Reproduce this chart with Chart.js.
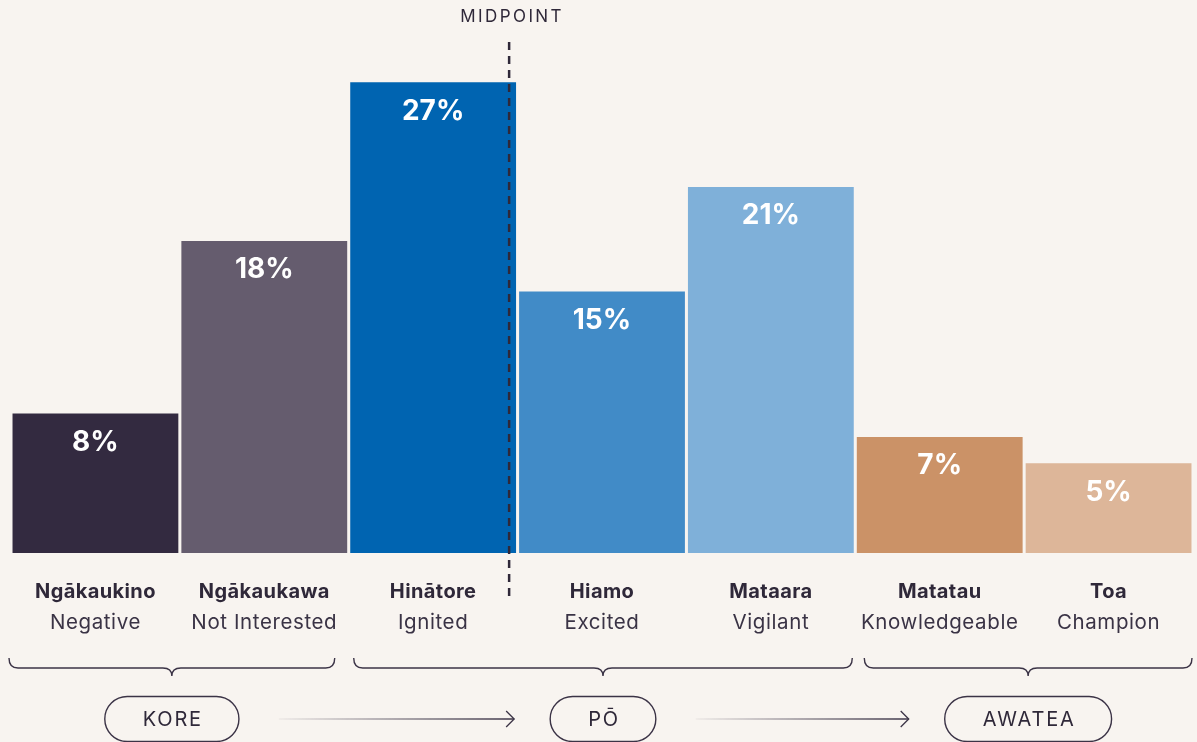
<!DOCTYPE html>
<html>
<head>
<meta charset="utf-8">
<script src="https://cdn.jsdelivr.net/npm/chart.js@4"></script>
<style>
  html, body { margin: 0; padding: 0; background: #f8f4f0; }
  #wrap { width: 1197px; height: 742px; position: relative; }
</style>
</head>
<body>
<div id="wrap"><canvas id="engagementChart"></canvas></div>
<script>
const categories = ['Ngākaukino', 'Ngākaukawa', 'Hinātore', 'Hiamo', 'Mataara', 'Matatau', 'Toa'];
const englishLabels = ['Negative', 'Not Interested', 'Ignited', 'Excited', 'Vigilant', 'Knowledgeable', 'Champion'];
// bar heights; the labels show them rounded
const values = [8, 17.9, 27, 15, 21, 6.65, 5.15];
const barColors = ['#332a40', '#655c6e', '#0064b1', '#418bc7', '#7fb0d9', '#cb9267', '#ddb699'];

// stage groups: name, first and last category index
const groupNames = ['KORE', 'PŌ', 'AWATEA'];
const groupStart = [0, 2, 5];
const groupEnd = [1, 4, 6];

const midpointLabel = 'MIDPOINT';
const midpointAt = 2.45; // position on the category axis

const ink = '#2f2839';
const fontFamily = 'Inter, "Noto Sans", sans-serif';
// brace insets (left, right) per group, in px
const braceInsets = [[-2, 14], [5, 3], [9, 1]];

const decorPlugin = {
    id: 'decor',
    afterDatasetsDraw(chart) {
        const ctx = chart.ctx;
        const x = chart.scales.x;
        const catW = x.getPixelForValue(1) - x.getPixelForValue(0);

        // value labels inside bars
        const meta = chart.getDatasetMeta(0);
        ctx.save();
        ctx.fillStyle = '#ffffff';
        ctx.font = 'bold 28px ' + fontFamily;
        ctx.textAlign = 'center';
        ctx.textBaseline = 'middle';
        meta.data.forEach((bar, i) => {
            ctx.fillText(Math.round(values[i]) + '%', bar.x, bar.y + 29);
        });
        ctx.restore();

        // category names
        ctx.save();
        ctx.textAlign = 'center';
        ctx.textBaseline = 'middle';
        categories.forEach((name, i) => {
            const cx = x.getPixelForValue(i);
            ctx.fillStyle = ink;
            ctx.font = 'bold 20px ' + fontFamily;
            ctx.letterSpacing = '0.4px';
            ctx.fillText(name, cx, 592);
            ctx.fillStyle = '#3a3345';
            ctx.font = '20.5px ' + fontFamily;
            ctx.letterSpacing = '0.6px';
            ctx.fillText(englishLabels[i], cx, 623);
        });
        ctx.restore();

        // midpoint line
        const mx = x.getPixelForValue(2) + (midpointAt - 2) * catW;
        ctx.save();
        ctx.strokeStyle = ink;
        ctx.lineWidth = 2.5;
        ctx.setLineDash([8, 6]);
        ctx.beginPath();
        ctx.moveTo(mx, 42);
        ctx.lineTo(mx, 596);
        ctx.stroke();
        ctx.setLineDash([]);
        ctx.fillStyle = ink;
        ctx.font = '17px ' + fontFamily;
        ctx.letterSpacing = '2.4px';
        ctx.textAlign = 'center';
        ctx.textBaseline = 'middle';
        ctx.fillText(midpointLabel, mx + 3, 17);
        ctx.restore();

        // braces, pills and arrows
        const pills = [];
        ctx.save();
        ctx.strokeStyle = '#3b3346';
        ctx.lineWidth = 1.4;
        groupNames.forEach((g, k) => {
            const left = x.getPixelForValue(groupStart[k]) - catW / 2 + braceInsets[k][0];
            const right = x.getPixelForValue(groupEnd[k]) + catW / 2 - braceInsets[k][1];
            const mid = (left + right) / 2;
            const yTop = 658, yLine = 668, yTip = 676, r = 9;
            ctx.beginPath();
            ctx.moveTo(left, yTop);
            ctx.quadraticCurveTo(left, yLine, left + r, yLine);
            ctx.lineTo(mid - r, yLine);
            ctx.quadraticCurveTo(mid, yLine, mid, yTip);
            ctx.quadraticCurveTo(mid, yLine, mid + r, yLine);
            ctx.lineTo(right - r, yLine);
            ctx.quadraticCurveTo(right, yLine, right, yTop);
            ctx.stroke();

            ctx.font = '20px ' + fontFamily;
            ctx.letterSpacing = '1.8px';
            const tw = ctx.measureText(g).width;
            const w = tw + 74, h = 45, cy = 719;
            pills.push({ left: mid - w / 2, right: mid + w / 2 });
            ctx.beginPath();
            ctx.roundRect(mid - w / 2, cy - h / 2, w, h, h / 2);
            ctx.stroke();
            ctx.fillStyle = ink;
            ctx.textAlign = 'center';
            ctx.textBaseline = 'middle';
            ctx.fillText(g, mid + 1, cy + 1);
        });
        for (let k = 0; k < pills.length - 1; k++) {
            const x0 = pills[k].right + 40;
            const x1 = pills[k + 1].left - 36;
            const ay = 719;
            const grad = ctx.createLinearGradient(x0, 0, x1, 0);
            grad.addColorStop(0, 'rgba(59,51,70,0.05)');
            grad.addColorStop(1, 'rgba(59,51,70,1)');
            ctx.strokeStyle = grad;
            ctx.lineWidth = 1.3;
            ctx.beginPath();
            ctx.moveTo(x0, ay);
            ctx.lineTo(x1, ay);
            ctx.stroke();
            ctx.strokeStyle = '#3b3346';
            ctx.beginPath();
            ctx.moveTo(x1 - 8, ay - 8);
            ctx.lineTo(x1, ay);
            ctx.lineTo(x1 - 8, ay + 8);
            ctx.stroke();
        }
        ctx.restore();
    }
};

const ctx = document.getElementById('engagementChart').getContext('2d');

const engagementChart = new Chart(ctx, {
    type: 'bar',
    data: {
        labels: categories,
        datasets: [{
            data: values,
            backgroundColor: barColors,
            borderWidth: 0,
            barPercentage: 0.982,
            categoryPercentage: 1
        }]
    },
    options: {
        responsive: true,
        maintainAspectRatio: false,
        animation: false,
        layout: { padding: { top: 30, bottom: 189, left: 11, right: 4 } },
        plugins: {
            legend: { display: false },
            tooltip: { enabled: false }
        },
        scales: {
            x: { display: false },
            y: { display: false, min: 0, max: 30 }
        }
    },
    plugins: [decorPlugin]
});
</script>
</body>
</html>
